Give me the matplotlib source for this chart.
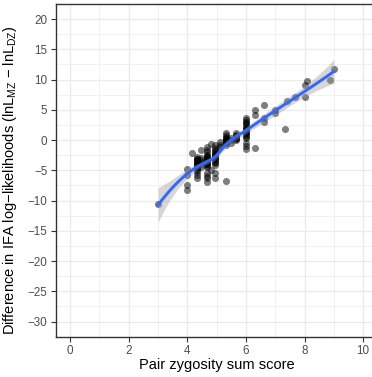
import matplotlib
matplotlib.use("Agg")
import matplotlib.pyplot as plt
from matplotlib.ticker import MultipleLocator
import numpy as np

plt.rcParams['font.family'] = ['Liberation Sans', 'DejaVu Sans']
plt.rcParams['mathtext.fontset'] = 'custom'
plt.rcParams['mathtext.rm'] = 'Liberation Sans'

# pair zygosity sum score (x) and log-likelihood difference (y)
# (dark overlapping spots repeat values)
score_low = [3.0] + [4.0] * 4 + [4.15]
diff_low = [-10.5, -4.8, -5.8, -7.4, -8.3, -2.1]
score_43 = [4.33] * 17 + [4.47] * 6
diff_43 = [-2.8, -3.1, -3.3, -3.6, -3.8, -4.1, -4.4, -4.6, -4.9, -5.3, -5.8, -6.3,
           -3.2, -3.5, -3.9, -4.2, -4.5,
           -1.6, -3.0, -3.3, -3.6, -4.0, -4.4]
score_47 = [4.67] * 20 + [4.8] * 2
diff_47 = [-1.1, -1.6, -2.0, -2.5, -2.8, -3.0, -3.3, -3.5, -3.8, -4.0, -4.2, -4.4,
           -5.4, -6.0, -6.3, -6.9, -2.7, -3.1, -3.6, -3.9,
           -0.65, -4.9]
score_50 = [4.95] * 17 + [5.12] * 3
diff_50 = [-0.8, -1.3, -1.8, -2.1, -2.3, -2.6, -2.8, -3.1, -3.3, -3.6, -3.8, -4.1,
           -5.5, -6.2, -1.6, -2.4, -3.0,
           -0.3, -0.8, -1.1]
score_53 = [5.33] * 11 + [5.5] * 3 + [5.67] * 8
diff_53 = [1.1, 0.84, 0.5, 0.3, 0.0, -0.3, -0.5, -0.8, -6.76, 0.2, -0.2,
           0.3, 0.0, -0.5,
           1.1, 0.84, 0.6, 0.4, 0.2, 0.0, 0.7, 0.3]
score_60 = [6.0] * 18 + [6.3] * 3 + [6.63] * 3 + [7.0] * 2
diff_60 = [3.6, 3.3, 3.0, 2.6, 2.2, 1.9, 1.7, 1.4, 1.1, 0.8, 0.5, 0.3, -0.5, -0.9, -1.5,
           2.8, 2.0, 1.2,
           5.0, 4.2, -1.3,
           5.8, 3.6, 3.0,
           5.0, 4.4]
score_hi = [7.33, 7.4, 7.67, 8.0, 8.0, 8.1, 8.87, 9.0]
diff_hi = [1.8, 6.5, 7.2, 9.1, 7.2, 9.8, 9.9, 11.75]

x = np.array(score_low + score_43 + score_47 + score_50 + score_53 + score_60 + score_hi)
y = np.array(diff_low + diff_43 + diff_47 + diff_50 + diff_53 + diff_60 + diff_hi)

SPAN = 0.67


def local_rows(xd, x0, span=SPAN):
    # local quadratic with tricube weights -> operator rows for value and slope
    n = len(xd)
    q = int(np.floor(n * span))
    d = np.abs(xd - x0)
    h = np.sort(d)[q - 1]
    u = np.clip(d / h, 0, 1)
    w = (1 - u ** 3) ** 3
    X = np.column_stack([np.ones(n), xd - x0, (xd - x0) ** 2])
    XtW = X.T * w
    B = np.linalg.solve(XtW @ X, XtW)
    return B[0], B[1]


def kd_vertices(xd, span=SPAN, cell=0.2):
    # 1-d version of the kd tree loess uses for its interpolated surface
    fc = int(np.floor(len(xd) * span * cell))
    lo, hi = xd.min(), xd.max()
    pad = 0.005 * (hi - lo)
    lo, hi = lo - pad, hi + pad
    verts = {lo, hi}

    def split(a, b):
        pts = np.sort(xd[(xd > a) & (xd <= b)]) if a > lo else np.sort(xd[(xd >= a) & (xd <= b)])
        if len(pts) <= fc:
            return
        m = len(pts) // 2
        v = pts[m] if len(pts) % 2 else 0.5 * (pts[m - 1] + pts[m])
        if v <= a or v >= b:
            return
        verts.add(v)
        split(a, v)
        split(v, b)

    split(lo, hi)
    return np.array(sorted(verts))


def loess_operator(xd, x_eval):
    verts = kd_vertices(xd)
    vals, slopes = zip(*[local_rows(xd, v) for v in verts])
    vals, slopes = np.array(vals), np.array(slopes)
    rows = []
    for x0 in x_eval:
        i = min(np.searchsorted(verts, x0, side='right') - 1, len(verts) - 2)
        a, b = verts[i], verts[i + 1]
        hw = b - a
        t = (x0 - a) / hw
        h00 = 2 * t ** 3 - 3 * t ** 2 + 1
        h10 = t ** 3 - 2 * t ** 2 + t
        h01 = -2 * t ** 3 + 3 * t ** 2
        h11 = t ** 3 - t ** 2
        rows.append(h00 * vals[i] + h10 * hw * slopes[i] + h01 * vals[i + 1] + h11 * hw * slopes[i + 1])
    return np.array(rows)


L = loess_operator(x, x)
resid = y - L @ y
IL = np.eye(len(x)) - L
delta1 = np.trace(IL.T @ IL)
sigma = np.sqrt(np.sum(resid ** 2) / delta1)

grid = np.linspace(x.min(), x.max(), 80)
Lg = loess_operator(x, grid)
fit = Lg @ y
se = sigma * np.sqrt(np.sum(Lg ** 2, axis=1))
tq = 1.98

fig = plt.figure(figsize=(3.72, 3.77), dpi=100)
ax = fig.add_axes([55.5 / 372, 40.3 / 377, 322.3 / 372, 332.7 / 377])

ax.set_xlim(-0.5, 10.5)
ax.set_ylim(-32.5, 22.5)
ax.xaxis.set_major_locator(MultipleLocator(2))
ax.xaxis.set_minor_locator(MultipleLocator(1))
ax.yaxis.set_major_locator(MultipleLocator(5))
ax.yaxis.set_minor_locator(MultipleLocator(2.5))
ax.grid(True, which='major', color='#EBEBEB', lw=1.0, zorder=0)
ax.grid(True, which='minor', color='#EBEBEB', lw=0.5, zorder=0)
ax.set_axisbelow(True)

ax.scatter(x, y, s=26, color='black', alpha=0.5, lw=0, zorder=2)
ax.fill_between(grid, fit - tq * se, fit + tq * se, color='#999999', alpha=0.4, lw=0, zorder=3)
ax.plot(grid, fit, color='#3366FF', lw=2.1, zorder=4)

for sp in ax.spines.values():
    sp.set_color('#333333')
    sp.set_linewidth(1.0)
ax.tick_params(which='major', length=3.5, width=0.8, color='#333333',
               labelcolor='#4D4D4D', labelsize=8.4, pad=2.5)
ax.tick_params(which='minor', length=0)

ax.set_xlabel('Pair zygosity sum score', fontsize=10.5)
ax.set_ylabel('Difference in IFA log\u2212likelihoods (lnL$_{\\mathregular{MZ}}$ \u2212 lnL$_{\\mathregular{DZ}}$)',
              fontsize=10.5)
ax.xaxis.set_label_coords(0.5, -0.063)
ax.yaxis.set_label_coords(-0.112, 0.47)

fig.savefig('out.png', dpi=100)
